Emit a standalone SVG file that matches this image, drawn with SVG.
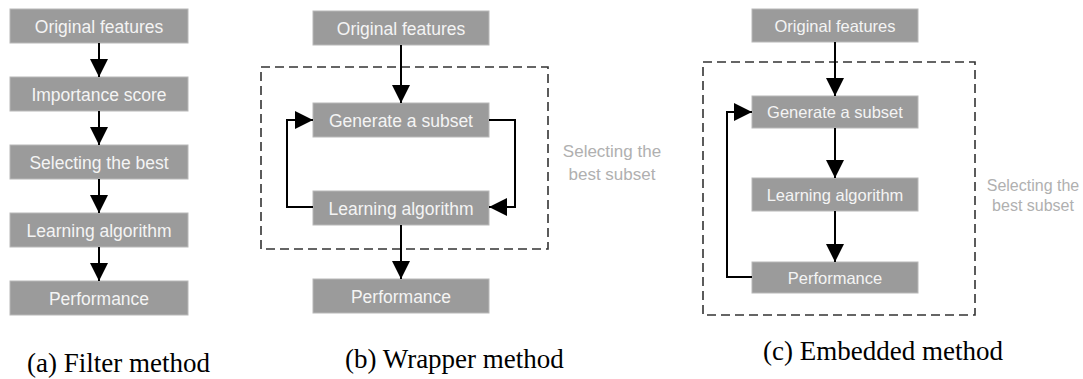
<svg xmlns="http://www.w3.org/2000/svg" width="1083" height="379" viewBox="0 0 1083 379">
<defs>
<style>
.box{fill:#9b9b9b;stroke:#b8b8b8;stroke-width:1}
.bt{font-family:"Liberation Sans",Arial,sans-serif;fill:#f4f4f4;text-anchor:middle}
.ln{fill:none;stroke:#000;stroke-width:2}
.dash{fill:none;stroke:#333;stroke-width:1.6;stroke-dasharray:9 5}
.note{font-family:"Liberation Sans",Arial,sans-serif;fill:#b0b0b0;text-anchor:middle}
.cap{font-family:"Liberation Serif","Times New Roman",serif;font-size:27px;fill:#000}
</style>
<marker id="ah" markerUnits="userSpaceOnUse" markerWidth="18" markerHeight="18" viewBox="0 0 18 18" refX="18" refY="9" orient="auto">
<path d="M0,0 L18,9 L0,18 Z" fill="#000"/>
</marker>
</defs>

<!-- Panel (a) -->
<g id="a-original"><rect class="box" x="10" y="9" width="178" height="34"/><text class="bt" x="99" y="33" font-size="17.5">Original features</text></g>
<g id="a-importance"><rect class="box" x="10" y="77" width="178" height="34"/><text class="bt" x="99" y="101" font-size="17.5">Importance score</text></g>
<g id="a-selecting"><rect class="box" x="10" y="145" width="178" height="34"/><text class="bt" x="99" y="169" font-size="17.5">Selecting the best</text></g>
<g id="a-learning"><rect class="box" x="10" y="213" width="178" height="34"/><text class="bt" x="99" y="237" font-size="17.5">Learning algorithm</text></g>
<g id="a-performance"><rect class="box" x="10" y="281" width="178" height="34"/><text class="bt" x="99" y="305" font-size="17.5">Performance</text></g>

<!-- Panel (b) -->
<g id="b-region"><rect class="dash" x="261" y="67" width="287" height="182"/></g>
<g id="b-original"><rect class="box" x="313" y="11" width="176" height="34"/><text class="bt" x="401" y="35" font-size="17.5">Original features</text></g>
<g id="b-generate"><rect class="box" x="313" y="103" width="176" height="34"/><text class="bt" x="401" y="127" font-size="17.5">Generate a subset</text></g>
<g id="b-learning"><rect class="box" x="313" y="191" width="176" height="34"/><text class="bt" x="401" y="215" font-size="17.5">Learning algorithm</text></g>
<g id="b-performance"><rect class="box" x="313" y="279" width="176" height="34"/><text class="bt" x="401" y="303" font-size="17.5">Performance</text></g>
<g id="b-note"><text class="note" font-size="17" x="612" y="157">Selecting the</text><text class="note" font-size="17" x="612" y="180">best subset</text></g>

<!-- Panel (c) -->
<g id="c-region"><rect class="dash" x="703" y="62" width="272" height="253"/></g>
<g id="c-original"><rect class="box" x="752" y="9" width="166" height="33"/><text class="bt" x="835" y="32" font-size="16.5">Original features</text></g>
<g id="c-generate"><rect class="box" x="752" y="96" width="166" height="32"/><text class="bt" x="835" y="118" font-size="16.5">Generate a subset</text></g>
<g id="c-learning"><rect class="box" x="752" y="178" width="166" height="33"/><text class="bt" x="835" y="201" font-size="16.5">Learning algorithm</text></g>
<g id="c-performance"><rect class="box" x="752" y="262" width="166" height="31"/><text class="bt" x="835" y="284" font-size="16.5">Performance</text></g>
<g id="c-note"><text class="note" font-size="16" x="1033" y="191">Selecting the</text><text class="note" font-size="16" x="1033" y="211">best subset</text></g>

<!-- Connectors -->
<g id="connectors">
<path class="ln" d="M99,43 V77" marker-end="url(#ah)"/>
<path class="ln" d="M99,111 V145" marker-end="url(#ah)"/>
<path class="ln" d="M99,179 V213" marker-end="url(#ah)"/>
<path class="ln" d="M99,247 V281" marker-end="url(#ah)"/>

<path class="ln" d="M401,45 V103" marker-end="url(#ah)"/>
<path class="ln" d="M401,225 V279" marker-end="url(#ah)"/>
<path class="ln" d="M313,207 H287 V120 H313" marker-end="url(#ah)"/>
<path class="ln" d="M489,120 H515 V207 H489" marker-end="url(#ah)"/>

<path class="ln" d="M835,42 V96" marker-end="url(#ah)"/>
<path class="ln" d="M835,128 V178" marker-end="url(#ah)"/>
<path class="ln" d="M835,211 V262" marker-end="url(#ah)"/>
<path class="ln" d="M752,277 H727 V112 H752" marker-end="url(#ah)"/>
</g>

<!-- Captions -->
<g id="captions">
<text class="cap" x="27" y="372">(a) Filter method</text>
<text class="cap" x="345" y="368">(b) Wrapper method</text>
<text class="cap" x="763" y="360">(c) Embedded method</text>
</g>
</svg>
